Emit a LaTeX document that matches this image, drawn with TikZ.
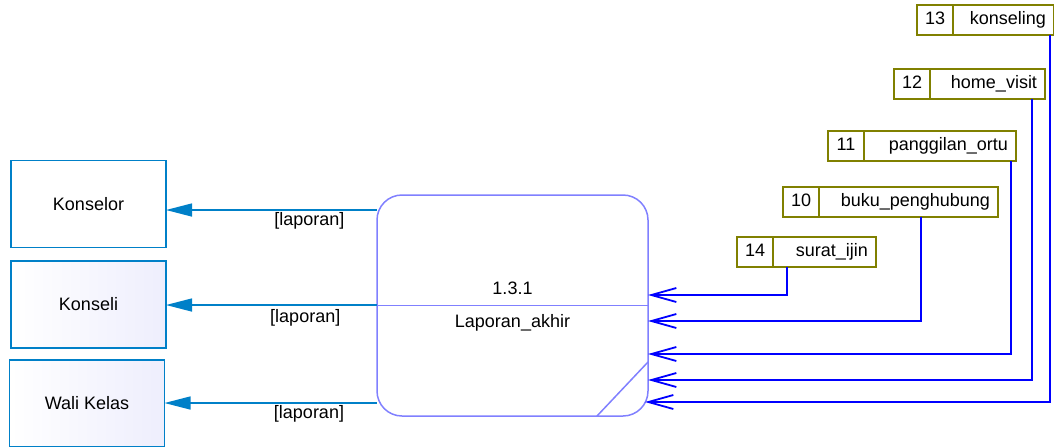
\documentclass[tikz,border=0pt]{standalone}
\usepackage{fontspec}
\setmainfont{Liberation Sans}
\usetikzlibrary{arrows.meta,positioning}
\definecolor{entblue}{RGB}{0,128,200}
\definecolor{entfill}{RGB}{238,238,253}
\definecolor{procline}{RGB}{128,128,255}
\definecolor{storeline}{RGB}{128,128,0}
\definecolor{flowblue}{RGB}{0,0,255}

\begin{document}
\begin{tikzpicture}[x=0.5pt, y=-0.5pt, font=\fontsize{9}{11}\selectfont,
	entity/.style={draw=entblue, line width=0.75pt, minimum width=77.5pt, minimum height=43.5pt, outer sep=0pt},
	process/.style={draw=procline, line width=0.75pt, fill=white, rounded corners=12.5pt, minimum width=135.5pt, minimum height=110.5pt, outer sep=0pt},
	storeno/.style={draw=storeline, line width=1pt, minimum width=18pt, minimum height=15pt, inner sep=0pt, outer sep=0pt, text height=6.5pt, text depth=1.8pt},
	storename/.style={draw=storeline, line width=1pt, minimum height=15pt, inner xsep=4pt, inner ysep=0pt, align=right, outer sep=0pt, text height=6.5pt, text depth=1.8pt},
	flow/.style={draw=flowblue, line width=0.9pt, -{Straight Barb[length=12.5pt,width=7pt]}},
	outflow/.style={draw=entblue, line width=0.7pt, -{Triangle[length=13pt,width=6.5pt]}},
	lbl/.style={below, inner sep=1pt}]
\useasboundingbox (0,0) rectangle (1054,446);

\node[entity] (konselor) at (88.5,204) {Konselor};
\node[entity, left color=white, right color=entfill] (konseli) at (88.5,304.5) {Konseli};
\node[entity, left color=white, right color=entfill] (wali) at (87,403.5) {Wali Kelas};

\node[process] (proc) at (512.5,305.5) {};
\draw[procline, line width=0.75pt] (proc.west) -- (proc.east);
\draw[procline, line width=0.75pt] (proc.east |- 0,362) -- (597,0 |- proc.south);
\node[above=2pt of proc.center] (procid) {1.3.1};
\node[below=1pt of proc.center] (procname) {Laporan\_akhir};

\foreach \n/\sname/\x/\y/\w [evaluate=\w as \tw using \w/2-8] in {13/konseling/917/19.5/101, 12/home\_visit/894/84/115, 11/panggilan\_ortu/828/146/152, 10/buku\_penghubung/783/201.5/179, 14/surat\_ijin/737/252/103} {
	\node[storeno, anchor=west] (no\n) at (\x,\y) {\n};
	\node[storename, right=0pt of no\n, text width=\tw pt] (nm\n) {\sname};
}

\draw[flow] ([xshift=7pt]nm14.south west) |- (proc.east |- 0,295);
\draw[flow] ([xshift=51pt]nm10.south west) |- (proc.east |- 0,321);
\draw[flow] ([xshift=-2.5pt]nm11.south east) |- (proc.east |- 0,354);
\draw[flow] ([xshift=-6.5pt]nm12.south east) |- (proc.east |- 0,380);
\draw[flow, shorten >=-1.5pt] ([xshift=-2pt]nm13.south east) |- (proc.east |- 0,402);

\draw[outflow] (proc.west |- 0,210) -- node[lbl, pos=.32] {[laporan]} (konselor.east |- 0,210);
\draw[outflow] (proc.west |- 0,305) -- node[lbl, pos=.34, yshift=-1pt] {[laporan]} (konseli.east |- 0,305);
\draw[outflow] (proc.west |- 0,403) -- node[lbl, pos=.32] {[laporan]} (wali.east |- 0,403);
\end{tikzpicture}
\end{document}
